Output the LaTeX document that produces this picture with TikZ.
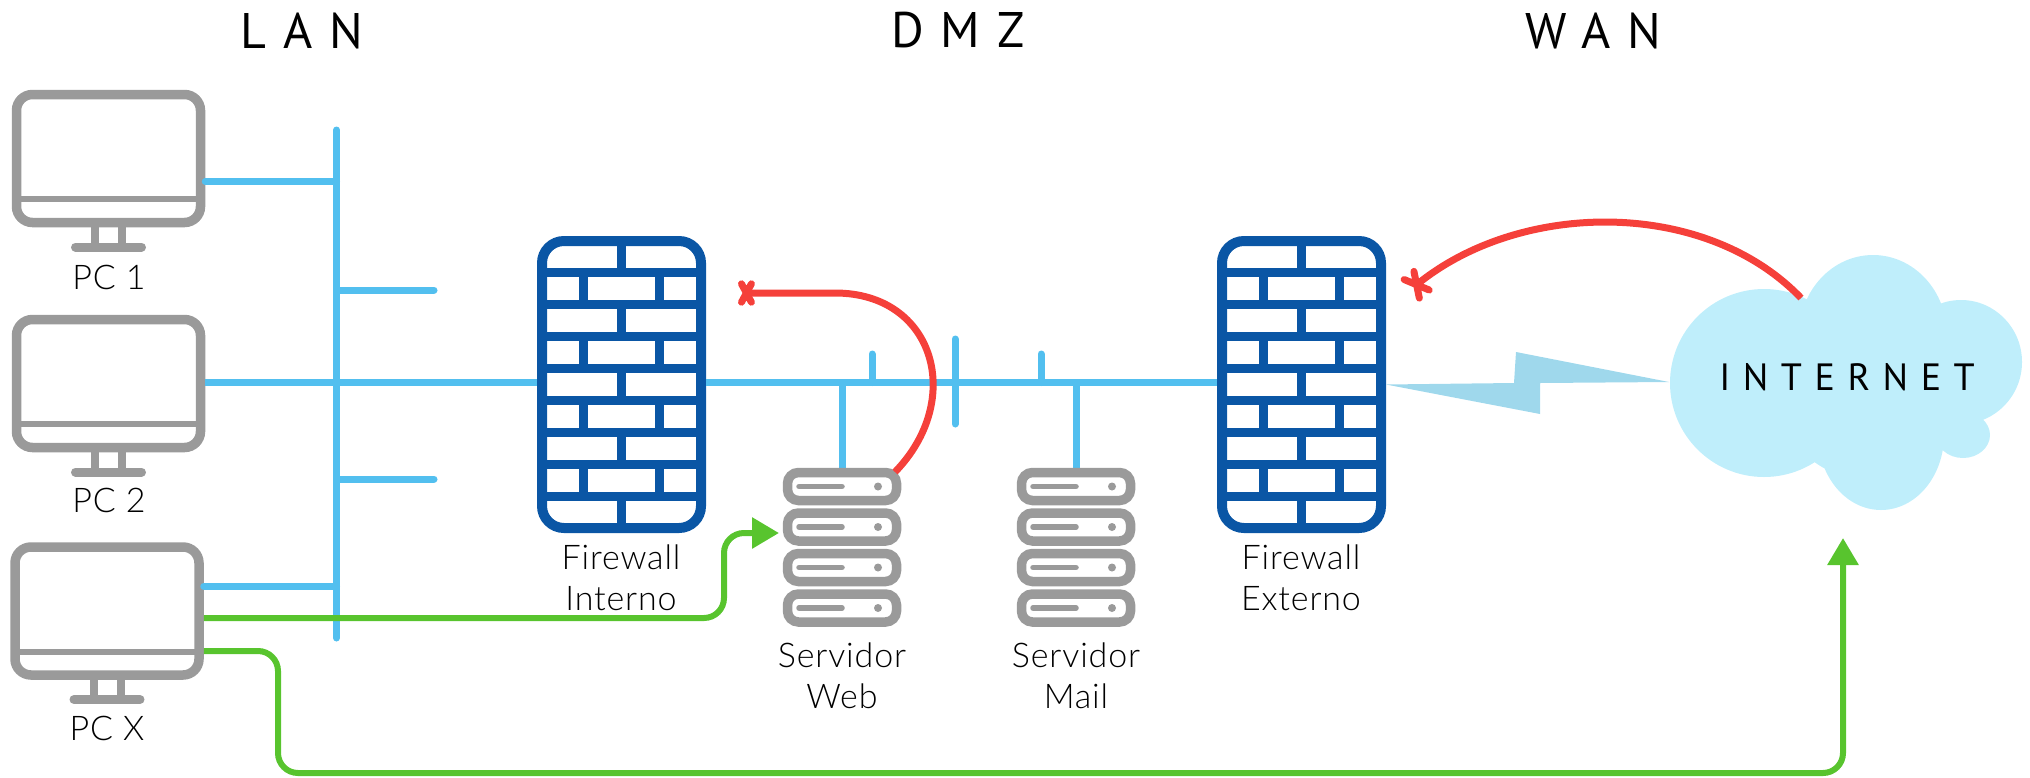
\documentclass[tikz,border=0pt]{standalone}
\usepackage{fontspec}
\setmainfont{Lato Light}
\newfontfamily\headfont[LetterSpace=33]{PT Sans}
\usetikzlibrary{arrows.meta}
\definecolor{pcgray}{HTML}{9A9A9A}
\definecolor{lanblue}{HTML}{52BFEF}
\definecolor{wallblue}{HTML}{0A56A5}
\definecolor{blockred}{HTML}{F5403A}
\definecolor{passgreen}{HTML}{58C42E}
\definecolor{cloudblue}{HTML}{BFEEFB}
\definecolor{boltblue}{HTML}{9FD8EC}
\tikzset{
  x=1pt, y=-1pt,
  netlink/.style={draw=lanblue, line width=7pt, line cap=round},
  passlink/.style={draw=passgreen, line width=6pt, rounded corners=20pt, -{Triangle[width=30pt,length=27pt]}},
  blocklink/.style={draw=blockred, line width=7pt, -{Rays[n=4,length=14pt,width=26pt,line width=7pt,round]}},
  iconlabel/.style={align=center, text=black, font=\fontsize{34}{41}\selectfont\addfontfeature{LetterSpace=2.5}},
  zonelabel/.style={font=\fontsize{50}{52}\selectfont\headfont, text=black},
  pics/monitor/.style={code={
    \node[draw=pcgray, line width=9.5pt, rounded corners=16pt, minimum width=184pt, minimum height=128pt, inner sep=0pt] (-body) at (0,0) {};
    \draw[pcgray, line width=6pt] (-90,40.5) -- (90,40.5);
    \draw[pcgray, line width=8pt] (-13.5,68) -- (-13.5,88) (13.5,68) -- (13.5,88);
    \draw[pcgray, line width=9pt, line cap=round] (-33,88.5) -- (33,88.5);
  }},
  pics/server/.style={code={
    \node[draw=pcgray, line width=9.5pt, rounded corners=11pt, minimum width=109pt, minimum height=28pt, inner sep=0pt] (-body) at (0,0) {};
    \draw[pcgray, line width=5.5pt, line cap=round] (-43,0) -- (0,0);
    \fill[pcgray] (36,0) circle (4pt);
  }},
  pics/firewall/.style={code={
    \node[draw=wallblue, line width=10pt, rounded corners=22pt, minimum width=159pt, minimum height=287pt, inner sep=0pt] (-body) at (0,0) {};
    \draw[wallblue, line width=9.5pt]
      (-80,-112) -- (80,-112) (-80,-80) -- (80,-80) (-80,-48) -- (80,-48) (-80,-16) -- (80,-16)
      (-80,16) -- (80,16) (-80,48) -- (80,48) (-80,80) -- (80,80) (-80,112) -- (80,112)
      (0,-144) -- (0,-112) (-38,-112) -- (-38,-80) (38,-112) -- (38,-80)
      (0,-80) -- (0,-48) (-38,-48) -- (-38,-16) (38,-48) -- (38,-16)
      (0,-16) -- (0,16) (-38,16) -- (-38,48) (38,16) -- (38,48)
      (0,48) -- (0,80) (-38,80) -- (-38,112) (38,80) -- (38,112)
      (0,112) -- (0,144);
  }}
}
\begin{document}
\begin{tikzpicture}
  \useasboundingbox (0,0) rectangle (2030,777);

  \coordinate (BusTop) at (336.5,130);
  \coordinate (BusBot) at (336.5,638);
  \coordinate (StubA) at (336.5,290);
  \coordinate (StubAEnd) at (434,290);
  \coordinate (StubB) at (336.5,479);
  \coordinate (StubBEnd) at (434,479);
  \coordinate (WebTap) at (842,382.5);
  \coordinate (WebStub) at (872,382.5);
  \coordinate (WebStubEnd) at (872,354);
  \coordinate (DivTop) at (955,339);
  \coordinate (DivBot) at (955,424);
  \coordinate (MailStub) at (1041,382.5);
  \coordinate (MailStubEnd) at (1041,354);
  \coordinate (MailTap) at (1076,382.5);
  \coordinate (WebIn) at (779,533);
  \coordinate (TurnA) at (724,618);
  \coordinate (TurnB) at (724,533);
  \coordinate (TurnC) at (278,651);
  \coordinate (TurnD) at (278,773);
  \coordinate (TurnE) at (1843,773);
  \coordinate (NetIn) at (1843,538);
  \coordinate (WebOut) at (895,472);
  \coordinate (WebStop) at (738,293);
  \coordinate (CloudOut) at (1801,298);
  \coordinate (ExtStop) at (1409,291);
  \coordinate (CloudWest) at (1669,382);

  \node[zonelabel] (LAN) at (302,30.5) {LAN};
  \node[zonelabel] (DMZ) at (958,30.5) {DMZ};
  \node[zonelabel] (WAN) at (1593,30.5) {WAN};

  \draw[netlink] (BusTop) -- (BusBot);
  \draw[netlink] (StubA) -- (StubAEnd);
  \draw[netlink] (StubB) -- (StubBEnd);
  \draw[netlink] (DivTop) -- (DivBot);
  \draw[netlink] (WebStub) -- (WebStubEnd);
  \draw[netlink] (MailStub) -- (MailStubEnd);

  \pic (PCA) at (108.5,158.5) {monitor};
  \pic (PCB) at (108.5,383.5) {monitor};
  \pic (PCX) at (107,611) {monitor};
  \pic (WallInt) at (621.5,384.5) {firewall};
  \pic (WallExt) at (1301.5,384.5) {firewall};

  \draw[netlink] ([yshift=-23pt]PCA-body.east) -- ([yshift=-23pt]PCA-body.east -| BusTop);
  \draw[netlink, line cap=butt] ([yshift=1pt]PCB-body.east) -- ([yshift=2pt]WallInt-body.west);
  \draw[netlink] ([yshift=25pt]PCX-body.east) -- ([yshift=25pt]PCX-body.east -| BusTop);
  \draw[netlink, line cap=butt] ([yshift=2pt]WallInt-body.east) -- ([yshift=2pt]WallExt-body.west);
  \draw[netlink, line cap=butt] (WebTap) -- (842,472);
  \draw[netlink, line cap=butt] (MailTap) -- (1076,472);

  \pic (WebA) at (842,486.5) {server};
  \pic (WebB) at (842,527) {server};
  \pic (WebC) at (842,567.5) {server};
  \pic (WebD) at (842,608) {server};
  \pic (MailA) at (1076,486.5) {server};
  \pic (MailB) at (1076,527) {server};
  \pic (MailC) at (1076,567.5) {server};
  \pic (MailD) at (1076,608) {server};

  \fill[cloudblue] (1764,383) circle (94pt) (1873,335) ellipse (74pt and 80pt)
    (1961,362) ellipse (61pt and 62pt) (1963,435) ellipse (27pt and 23pt)
    (1881,435) ellipse (63pt and 75pt) (1870,385) circle (95pt);
  \fill[boltblue] (WallExt-body.east) -- (1514,383) -- (1516,352) -- (CloudWest) -- (1540,383) -- (1540,414) -- cycle;
  \node[font=\fontsize{38}{40}\selectfont\headfont, text=black] (Cloud) at (1847,377) {INTERNET};

  \draw[passlink] (PCX-body.east |- TurnA) -- (TurnA) -- (TurnB) -- (WebIn);
  \draw[passlink] (PCX-body.east |- TurnC) -- (TurnC) -- (TurnD) -- (TurnE) -- (NetIn);
  \draw[blocklink] (WebOut) .. controls (965,400) and (935,293) .. (835,293) -- (WebStop);
  \draw[blocklink, -{Rays[n=4,length=18pt,width=34pt,line width=7pt,round]}] (CloudOut) .. controls (1705,198) and (1520,200) .. (ExtStop);

  \node[iconlabel] (PCALabel) at (109,277) {PC 1};
  \node[iconlabel] (PCBLabel) at (109,500) {PC 2};
  \node[iconlabel] (PCXLabel) at (107,728) {PC X};
  \node[iconlabel] (WallIntLabel) at (621,578) {Firewall\\Interno};
  \node[iconlabel] (WallExtLabel) at (1301,578) {Firewall\\Externo};
  \node[iconlabel] (WebLabel) at (842,676) {Servidor\\Web};
  \node[iconlabel] (MailLabel) at (1076,676) {Servidor\\Mail};
\end{tikzpicture}
\end{document}
